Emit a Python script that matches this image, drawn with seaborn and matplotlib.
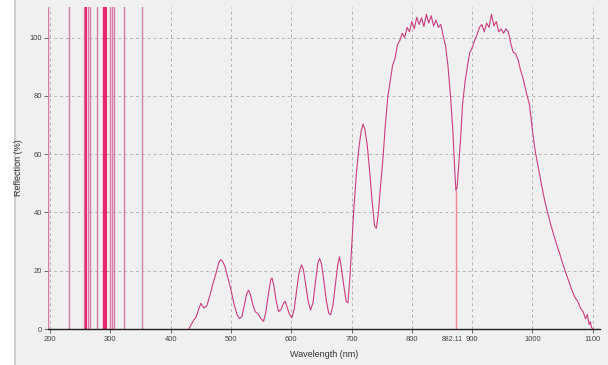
import matplotlib
matplotlib.use("Agg")
import matplotlib.pyplot as plt
import matplotlib.transforms as mtransforms
import seaborn as sns
import pandas as pd

# ---- data ----
wavelength = [
    430, 434, 438, 442, 446, 450, 455, 460, 465, 470,
    475, 480, 483, 486, 490, 495, 500, 505, 510, 514,
    518, 522, 526, 529, 532, 536, 540, 545, 550, 554,
    558, 562, 566, 568, 571, 575, 579, 583, 587, 590,
    593, 597, 601, 605, 609, 613, 617, 620, 624, 628,
    632, 636, 640, 644, 647, 650, 654, 658, 662, 665,
    669, 673, 677, 680, 683, 687, 691, 694, 697, 700,
    704, 708, 712, 716, 719, 722, 726, 730, 734, 738,
    741, 744, 748, 752, 756, 760, 764, 768, 772, 776,
    780, 784, 788, 792, 796, 800, 804, 808, 812, 816,
    820, 824, 828, 832, 836, 840, 844, 848, 852, 856,
    860, 864, 868, 871, 873, 875, 878, 881, 884, 888,
    892, 896, 900, 904, 908, 912, 916, 920, 924, 928,
    932, 936, 940, 944, 948, 952, 956, 960, 964, 968,
    972, 976, 980, 985, 990, 995, 1000, 1005, 1010, 1015,
    1020, 1025, 1030, 1035, 1040, 1045, 1050, 1055, 1060, 1065,
    1070, 1075, 1080, 1084, 1088, 1091, 1094, 1096, 1098, 1100,
]
reflection = [
    0.0, 1.5, 3.0, 4.0, 6.5, 8.8, 7.2, 8.0, 11.5, 15.5,
    19.0, 23.0, 23.8, 23.2, 21.5, 17.5, 13.4, 8.5, 5.0, 3.6,
    4.2, 8.0, 12.0, 13.3, 12.0, 8.5, 6.0, 5.2, 3.5, 2.6,
    6.0, 12.0, 17.0, 17.5, 15.0, 9.5, 6.0, 6.8, 8.8, 9.5,
    7.5, 5.0, 3.8, 7.0, 13.5, 19.5, 22.0, 20.5, 15.0, 9.5,
    6.5, 9.0, 16.0, 22.5, 24.2, 22.5, 16.5, 10.0, 5.5, 4.8,
    8.0, 15.0, 22.0, 24.8, 21.0, 15.0, 9.5, 9.0, 17.0, 28.0,
    42.0, 53.5, 62.0, 68.0, 70.3, 68.5, 63.0, 54.0, 44.0, 35.5,
    34.5, 39.0, 49.0, 58.5, 70.0, 79.5, 85.0, 90.5, 92.8, 97.5,
    99.0, 101.5, 100.0, 103.5, 102.0, 105.5, 103.0, 107.0, 104.5, 106.8,
    103.8, 108.0, 105.0, 107.5, 104.0, 106.0, 103.5, 104.5, 100.5, 97.0,
    90.0, 80.0, 68.0, 55.0, 47.5, 48.5, 57.0, 66.0, 77.0, 84.5,
    90.0, 94.8, 96.5, 99.0, 101.0, 103.5, 104.5, 102.0, 105.0, 103.5,
    108.0, 104.0, 105.5, 102.0, 103.0, 101.5, 103.0, 102.0, 98.0, 95.0,
    94.5, 92.5, 89.0, 85.5, 81.0, 77.0, 68.0, 60.5, 55.0, 49.5,
    44.3, 40.0, 36.0, 32.5, 29.0, 26.0, 22.5, 19.5, 16.5, 13.5,
    11.0, 9.5, 7.0, 6.0, 3.5, 5.0, 1.5, 2.5, 0.5, 0.0,
]

line_nm = [196, 230.5, 257, 260, 263, 266, 278, 287, 289, 291, 293, 299, 302, 306, 322, 353]
line_bright = [0, 0, 0, 1, 0, 0, 0, 0, 1, 1, 1, 0, 0, 0, 0, 0]

cursor_nm = 873
cursor_value = 47.5
cursor_label = "882.11"

x_ticks = [200, 300, 400, 500, 600, 700, 800, 900, 1000, 1100]
y_ticks = [0, 20, 40, 60, 80, 100]

# ---- styling ----
sns.set_theme(style="white")
plt.rcParams["font.family"] = ["Liberation Sans", "DejaVu Sans"]

bg = "#f0f0f0"
fig = plt.figure(figsize=(6.08, 3.65), dpi=100, facecolor=bg)
fig.patches.append(plt.Rectangle((0, 0), 14 / 608, 1, transform=fig.transFigure,
                                 facecolor="white", edgecolor="none", zorder=-5))
fig.add_artist(plt.Line2D([15 / 608, 15 / 608], [0, 1], transform=fig.transFigure,
                          color="#c8c8c8", lw=1.2, zorder=-4))

ax = fig.add_axes([48 / 608, 36 / 365, 552 / 608, 322 / 365])
ax.set_facecolor(bg)

# emission lines
for nm, br in zip(line_nm, line_bright):
    if br:
        ax.axvline(nm, color="#e8266f", lw=1.5, zorder=2)
    else:
        ax.axvline(nm, color="#d67aa6", lw=1.0, zorder=2)

# cursor
ax.plot([cursor_nm, cursor_nm], [0, cursor_value], color="#f08a8a", lw=1.0, zorder=2)

df = pd.DataFrame({"Wavelength": wavelength, "Reflection": reflection})
sns.lineplot(data=df, x="Wavelength", y="Reflection", ax=ax,
             color="#cc3d80", lw=0.8, zorder=3)

ax.set_xlim(196.5, 1112)
ax.set_ylim(0, 110.5)
ax.set_xticks(x_ticks)
ax.set_xticklabels([str(t) for t in x_ticks])
ax.set_xticks([cursor_nm], minor=True)
ax.set_xticklabels([cursor_label], minor=True)
ax.set_yticks(y_ticks)
ax.set_yticklabels([str(t) for t in y_ticks])

ax.grid(True, which="major", color="#b4b4b4", lw=0.7, linestyle=(0, (3, 3)))
ax.set_axisbelow(True)

for s in ["top", "right", "left"]:
    ax.spines[s].set_visible(False)
ax.spines["bottom"].set_color("#202020")
ax.spines["bottom"].set_linewidth(1.0)

ax.tick_params(axis="x", which="major", direction="out", length=3, width=0.6,
               color="#555555", labelsize=5.5, labelcolor="#444444", pad=2, bottom=True)
ax.tick_params(axis="x", which="minor", direction="out", length=0, width=0.6,
               color="#555555", labelsize=5.0, labelcolor="#444444", pad=5.2, bottom=True)
shift = mtransforms.ScaledTranslation(-4 / 100, 0, fig.dpi_scale_trans)
for lbl in ax.get_xticklabels(minor=True):
    lbl.set_transform(lbl.get_transform() + shift)
ax.tick_params(axis="y", direction="out", length=3, width=0.6, color="#555555",
               labelsize=5.5, labelcolor="#444444", pad=1.5, left=True)

ax.set_xlabel("Wavelength (nm)", fontsize=6.5, color="#333333", labelpad=5)
ax.set_ylabel("Reflection (%)", fontsize=6.5, color="#333333")
ax.yaxis.set_label_coords(-25 / 552, 0.5)

fig.savefig("out.png", dpi=100, facecolor=bg)
